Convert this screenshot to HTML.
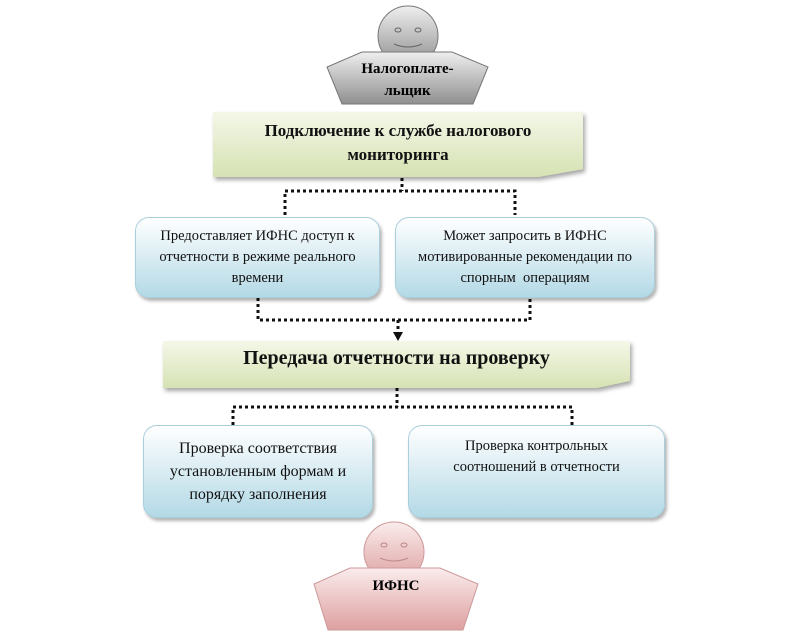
<!DOCTYPE html>
<html><head><meta charset="utf-8"><style>
body{margin:0;width:800px;height:644px;background:#fff;position:relative;overflow:hidden;font-family:"Liberation Serif",serif;}
.a{position:absolute;}
.w{filter:drop-shadow(2px 3px 2px rgba(0,0,0,.35));}
.g{background:linear-gradient(#f4f7e8,#d6e2b3);text-align:center;font-weight:bold;color:#111;}
.b{background:linear-gradient(#ffffff,#b3d9e6);border:1px solid #a9cfdc;border-radius:14px;box-shadow:2px 3px 3px rgba(0,0,0,.3);text-align:center;color:#111;box-sizing:border-box;}
</style></head><body>
<svg class="a" style="left:0;top:0" width="800" height="644">
<defs>
<linearGradient id="gr" x1="0" y1="0" x2="0" y2="1"><stop offset="0" stop-color="#efefef"/><stop offset="1" stop-color="#8f8f8f"/></linearGradient>
<linearGradient id="pk" x1="0" y1="0" x2="0" y2="1"><stop offset="0" stop-color="#fbecec"/><stop offset="1" stop-color="#dda0a0"/></linearGradient>
</defs>
<g stroke="#777" stroke-width="1">
<circle cx="408" cy="36" r="30" fill="url(#gr)"/>
<polygon points="362,52 452,52 488,67 473,104 342,104 327,67" fill="url(#gr)"/>
</g>
<ellipse cx="398" cy="30" rx="3" ry="2" fill="none" stroke="#666"/><ellipse cx="418" cy="30" rx="3" ry="2" fill="none" stroke="#666"/>
<path d="M394 44 Q408 50 422 44" fill="none" stroke="#666"/>
<g stroke="#c99" stroke-width="1">
<circle cx="394" cy="552" r="30" fill="url(#pk)"/>
<polygon points="350,568 440,568 478,584 463,630 328,630 314,584" fill="url(#pk)"/>
</g>
<ellipse cx="384" cy="545" rx="3" ry="2" fill="none" stroke="#b88"/><ellipse cx="404" cy="545" rx="3" ry="2" fill="none" stroke="#b88"/>
<path d="M380 558 Q394 564 408 558" fill="none" stroke="#b88"/>
<g stroke="#111" stroke-width="3" stroke-dasharray="3,3" fill="none">
<path d="M402 178 V191 M285 215 V191 H515 V215"/>
<path d="M258 298 V320 H530 V298 M398 320 V333"/>
<path d="M397 388 V407 M233 425 V407 H572 V425"/>
</g>
<polygon points="393,332 403,332 398,341" fill="#111"/>
</svg>
<div class="a w" style="left:213px;top:112px;width:370px;height:65px;"><div class="g" style="width:100%;height:100%;font-size:17px;line-height:24px;padding-top:7px;box-sizing:border-box;clip-path:polygon(0 0,100% 0,100% 88%,88% 100%,0 100%)">Подключение к службе налогового<br>мониторинга</div></div>
<div class="a b" style="left:135px;top:217px;width:245px;height:81px;font-size:14.5px;line-height:21px;padding-top:8px">Предоставляет ИФНС доступ к<br>отчетности в режиме реального<br>времени</div>
<div class="a b" style="left:395px;top:217px;width:260px;height:81px;font-size:14.5px;line-height:21px;padding-top:8px">Может запросить в ИФНС<br>мотивированные рекомендации по<br>спорным&nbsp; операциям</div>
<div class="a w" style="left:163px;top:341px;width:467px;height:47px;"><div class="g" style="width:100%;height:100%;font-size:20px;line-height:30px;padding-top:2px;box-sizing:border-box;clip-path:polygon(0 0,100% 0,100% 85%,93% 100%,0 100%)">Передача отчетности на проверку</div></div>
<div class="a b" style="left:143px;top:425px;width:230px;height:93px;font-size:16px;line-height:23px;padding-top:11px">Проверка соответствия<br>установленным формам и<br>порядку заполнения</div>
<div class="a b" style="left:408px;top:425px;width:257px;height:93px;font-size:14.5px;line-height:21px;padding-top:10px">Проверка контрольных<br>соотношений в отчетности</div>
<div class="a" style="left:327px;top:58px;width:161px;text-align:center;font-weight:bold;font-size:15px;line-height:22px">Налогоплате-<br>льщик</div>
<div class="a" style="left:314px;top:578px;width:164px;text-align:center;font-weight:bold;font-size:15px">ИФНС</div>
</body></html>
